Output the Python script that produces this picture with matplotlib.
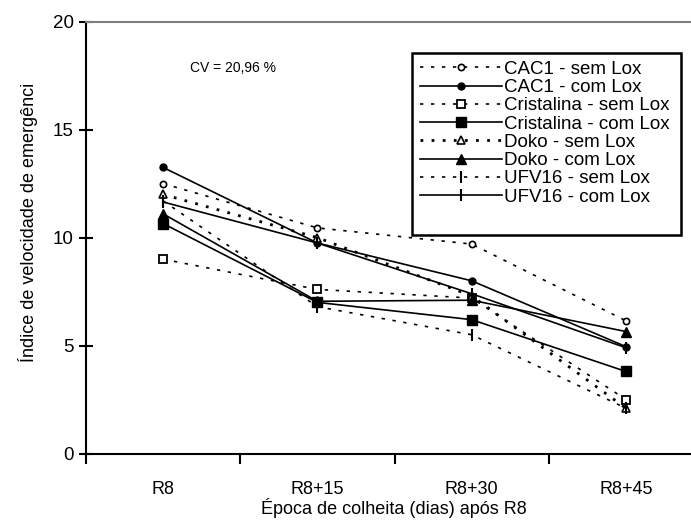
import matplotlib
matplotlib.use("Agg")
import matplotlib.pyplot as plt
from matplotlib.patches import Rectangle

plt.rcParams['font.family'] = ['Liberation Sans', 'DejaVu Sans']
plt.rcParams['lines.scale_dashes'] = False

categories = ["R8", "R8+15", "R8+30", "R8+45"]
series_names = ["CAC1 - sem Lox", "CAC1 - com Lox", "Cristalina - sem Lox", "Cristalina - com Lox",
                "Doko - sem Lox", "Doko - com Lox", "UFV16 - sem Lox", "UFV16 - com Lox"]
cac1_sem = [12.5, 10.45, 9.7, 6.15]
cac1_com = [13.25, 9.75, 8.0, 4.95]
crist_sem = [9.0, 7.6, 7.2, 2.5]
crist_com = [10.65, 7.0, 6.2, 3.8]
doko_sem = [12.0, 10.0, 7.3, 2.1]
doko_com = [11.1, 7.05, 7.1, 5.65]
ufv_sem = [11.7, 6.8, 5.5, 2.1]
ufv_com = [11.65, 9.75, 7.4, 4.9]
yticks = [0, 5, 10, 15, 20]
cv_text = "CV = 20,96 %"

values = [cac1_sem, cac1_com, crist_sem, crist_com, doko_sem, doko_com, ufv_sem, ufv_com]

dash_sem = (0, (2.4, 5.5))
dash_doko = (0, (2.0, 6.0))
styles = [
    dict(ls=dash_sem, lw=1.2, marker='o', ms=4.5, mfc='white', mec='black', mew=1.2),
    dict(ls='-', lw=1.2, marker='o', ms=5, mfc='black', mec='black'),
    dict(ls=dash_sem, lw=1.2, marker='s', ms=6, mfc='white', mec='black', mew=1.3),
    dict(ls='-', lw=1.2, marker='s', ms=6.5, mfc='black', mec='black'),
    dict(ls=dash_doko, lw=2.0, marker='^', ms=5.5, mfc='white', mec='black', mew=1.2),
    dict(ls='-', lw=1.2, marker='^', ms=6.5, mfc='black', mec='black'),
    dict(ls=dash_sem, lw=1.2, marker='|', ms=8, mec='black', mew=1.5),
    dict(ls='-', lw=1.2, marker='|', ms=8, mec='black', mew=1.5),
]

fig = plt.figure(figsize=(6.91, 5.25), dpi=100)
W, H = 691, 525
ax = fig.add_axes([86 / W, 1 - 453.5 / H, (703 - 86) / W, (453.5 - 21.7) / H])

x = list(range(len(categories)))
handles = []
for name, vals, st in zip(series_names, values, styles):
    h, = ax.plot(x, vals, color='black', label=name, **st)
    handles.append(h)

ax.set_xlim(-0.5, 3.5)
ax.set_ylim(0, 20)
ax.set_yticks(yticks)
ax.set_xticks(x)
ax.set_xticklabels(categories)

for s in ['left', 'bottom']:
    ax.spines[s].set_linewidth(1.5)
    ax.spines[s].set_color('black')
ax.spines['top'].set_color('#808080')
ax.spines['top'].set_linewidth(1.5)
ax.spines['right'].set_visible(False)

ax.tick_params(axis='y', direction='inout', length=10, width=1.5, pad=4, labelsize=13.5)
ax.tick_params(axis='x', which='major', length=0, pad=20, labelsize=13)
ax.set_xticks([-0.5, 0.5, 1.5, 2.5], minor=True)
ax.tick_params(axis='x', which='minor', direction='out', length=7, width=1.5)

fig.text(28 / W, 1 - 222 / H, "Índice de velocidade de emergênci", fontsize=13,
         rotation=90, ha='center', va='center')
fig.text(394 / W, 1 - 508 / H, "Época de colheita (dias) após R8", fontsize=13,
         ha='center', va='center')

fig.text(190 / W, 1 - 68 / H, cv_text, fontsize=10, va='center', ha='left')

# legend frame
fig.patches.append(Rectangle((412 / W, 1 - 235 / H), (681 - 412) / W, (235 - 53) / H,
                             transform=fig.transFigure, fill=False, edgecolor='black',
                             linewidth=1.8, zorder=5))
leg = fig.legend(handles=handles, loc='upper left', bbox_to_anchor=(416 / W, 1 - 57 / H),
                 frameon=False, fontsize=13.5, handlelength=4.4, handletextpad=0.1,
                 labelspacing=0.06, borderpad=0.2, borderaxespad=0)

fig.savefig("out.png", dpi=100)
